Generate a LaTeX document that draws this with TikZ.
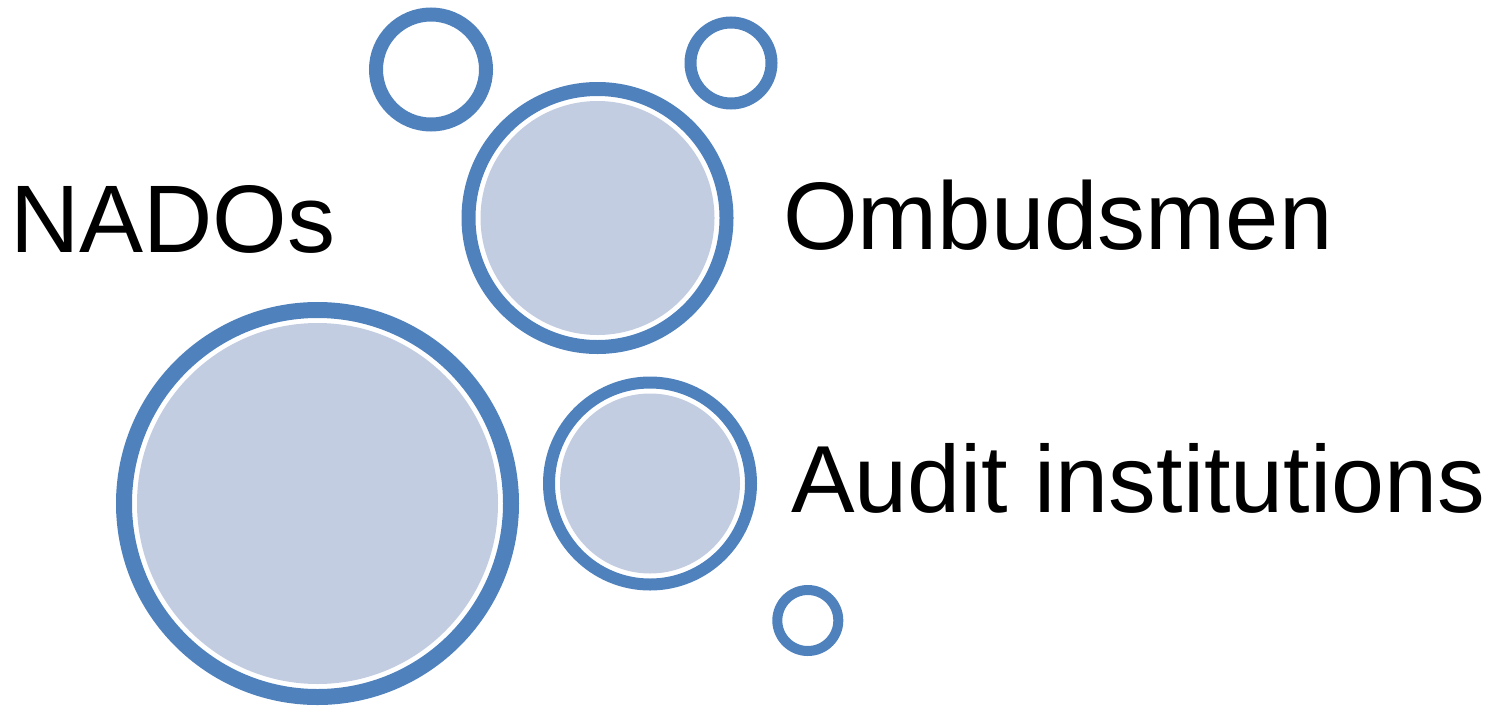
\documentclass[tikz,border=0pt]{standalone}
\usepackage{fontspec}
\setmainfont{Liberation Sans}
\definecolor{ringblue}{RGB}{79,129,189}
\definecolor{discblue}{RGB}{195,205,225}
\begin{document}
\begin{tikzpicture}[x=1pt,y=-1pt,
    ring/.style={draw=ringblue},
    disc/.style={fill=discblue},
    label/.style={anchor=base west,inner sep=0pt,font=\fontsize{96}{110}\selectfont}]
            \useasboundingbox (0,0) rectangle (1495,707);
            % big bubble
            \draw [ring,line width=16pt] (317.5,503.5) circle (193.5);
            \fill [disc] (317.5,503.5) circle (180.5);
            % bubble under the labels
            \draw [ring,line width=14pt] (597.5,218) circle (129);
            \fill [disc] (597.5,218) circle (117);
            \draw [ring,line width=12pt] (650,483.5) circle (101);
            \fill [disc] (650,483.5) circle (90);
            % empty rings
            \draw [ring,line width=14pt] (431,69.5) circle (55);
            \draw [ring,line width=12pt] (731,63) circle (40.5);
            \draw [ring,line width=10pt] (807.8,620.5) circle (30.5);
            \node [label] (nados) at (10,252) {NADOs};
            \node [label] (ombud) at (783,249.5) {Ombudsmen};
            \node [label,font=\fontsize{95.3}{110}\selectfont] (audit) at (791,512.7) {Audit institutions};
          \end{tikzpicture}
\end{document}
